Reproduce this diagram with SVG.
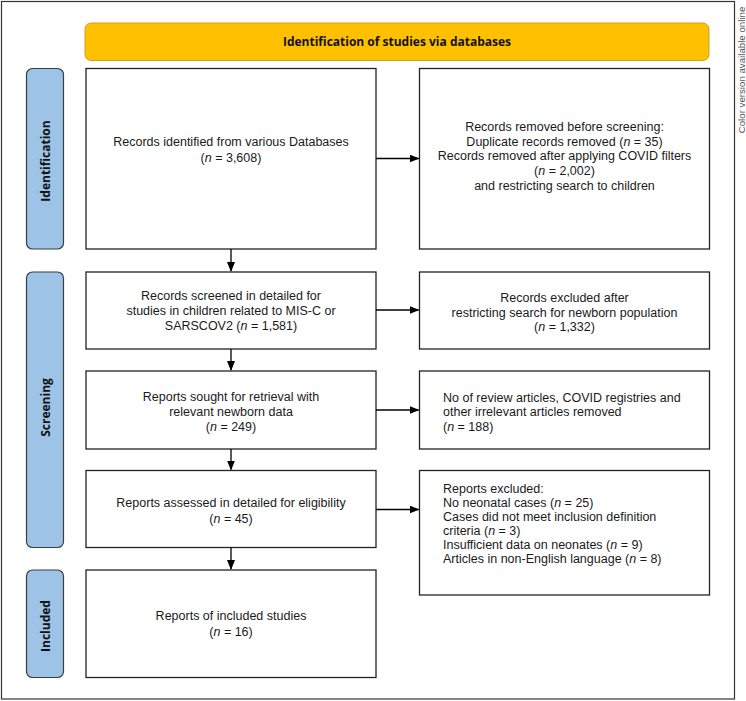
<svg xmlns="http://www.w3.org/2000/svg" width="746" height="701" viewBox="0 0 746 701">
<defs>
<marker id="ah" markerWidth="10" markerHeight="8" refX="9" refY="4" orient="auto" markerUnits="userSpaceOnUse">
<path d="M0,0 L10,4 L0,8 Z" fill="#000"/>
</marker>
<style>
.box{fill:#fff;stroke:#222;stroke-width:1.3}
.side{fill:#9dc3e6;stroke:#3a3f44;stroke-width:1.2}
.banner{fill:#ffc000;stroke:#c9a227;stroke-width:1}
.t{font-family:"Liberation Sans",Arial,sans-serif;font-size:12.5px;fill:#1a1a1a}
.c{text-anchor:middle}
.b{font-family:"Open Sans","Noto Sans","Liberation Sans",sans-serif;font-size:12px;font-weight:bold;fill:#111;text-anchor:middle}
.i{font-style:italic}
.conn{stroke:#000;stroke-width:1.3;fill:none}
</style>
</defs>
<rect x="1.5" y="1.5" width="733" height="697.5" fill="#fff" stroke="#333" stroke-width="1.2"/>
<text transform="translate(745 70) rotate(-90)" x="0" y="0" text-anchor="middle" style="font-family:'Liberation Sans',Arial,sans-serif;font-size:9.7px;fill:#555">Color version available online</text>

<g id="banner">
<rect class="banner" x="85" y="23" width="624" height="37.5" rx="6"/>
<text class="b" x="397" y="46">Identification of studies via databases</text>
</g>

<g id="label-identification">
<rect class="side" x="26.5" y="68.5" width="37" height="180.5" rx="6"/>
<text class="b" transform="translate(49.5 161) rotate(-90)" x="0" y="0">Identification</text>
</g>
<g id="label-screening">
<rect class="side" x="26.5" y="272" width="37" height="275.5" rx="6"/>
<text class="b" transform="translate(49.5 407.5) rotate(-90)" x="0" y="0">Screening</text>
</g>
<g id="label-included">
<rect class="side" x="26.5" y="570" width="37" height="107.5" rx="6"/>
<text class="b" transform="translate(49.5 626) rotate(-90)" x="0" y="0">Included</text>
</g>

<g id="n1">
<rect class="box" x="86" y="68.5" width="290" height="180.5"/>
<text class="t c" x="231" y="146">Records identified from various Databases</text>
<text class="t c" x="231" y="161.5">(<tspan class="i">n</tspan> = 3,608)</text>
</g>
<g id="n2">
<rect class="box" x="419.5" y="68.5" width="290" height="180.5"/>
<text class="t c" x="564.5" y="131">Records removed before screening:</text>
<text class="t c" x="564.5" y="145.7">Duplicate records removed (<tspan class="i">n</tspan> = 35)</text>
<text class="t c" x="564.5" y="160.4">Records removed after applying COVID filters</text>
<text class="t c" x="564.5" y="175">(<tspan class="i">n</tspan> = 2,002)</text>
<text class="t c" x="564.5" y="189.7">and restricting search to children</text>
</g>
<g id="n3">
<rect class="box" x="86" y="272" width="290" height="77"/>
<text class="t c" x="231" y="300">Records screened in detailed for</text>
<text class="t c" x="231" y="315">studies in children related to MIS-C or</text>
<text class="t c" x="231" y="330">SARSCOV2 (<tspan class="i">n</tspan> = 1,581)</text>
</g>
<g id="n4">
<rect class="box" x="419.5" y="272" width="290" height="77"/>
<text class="t c" x="564.5" y="301.5">Records excluded after</text>
<text class="t c" x="564.5" y="316.5">restricting search for newborn population</text>
<text class="t c" x="564.5" y="331">(<tspan class="i">n</tspan> = 1,332)</text>
</g>
<g id="n5">
<rect class="box" x="86" y="371" width="290" height="78"/>
<text class="t c" x="231" y="401">Reports sought for retrieval with</text>
<text class="t c" x="231" y="416">relevant newborn data</text>
<text class="t c" x="231" y="430.5">(<tspan class="i">n</tspan> = 249)</text>
</g>
<g id="n6">
<rect class="box" x="419.5" y="371" width="290" height="78"/>
<text class="t" x="443" y="401.5">No of review articles, COVID registries and</text>
<text class="t" x="443" y="416">other irrelevant articles removed</text>
<text class="t" x="443" y="430.5">(<tspan class="i">n</tspan> = 188)</text>
</g>
<g id="n7">
<rect class="box" x="86" y="470.5" width="290" height="77"/>
<text class="t c" x="231" y="507">Reports assessed in detailed for eligibility</text>
<text class="t c" x="231" y="523">(<tspan class="i">n</tspan> = 45)</text>
</g>
<g id="n8">
<rect class="box" x="419.5" y="470.5" width="290" height="124.5"/>
<text class="t" x="443" y="492.5">Reports excluded:</text>
<text class="t" x="443" y="506.5">No neonatal cases (<tspan class="i">n</tspan> = 25)</text>
<text class="t" x="443" y="520.5">Cases did not meet inclusion definition</text>
<text class="t" x="443" y="534.5">criteria (<tspan class="i">n</tspan> = 3)</text>
<text class="t" x="443" y="548.5">Insufficient data on neonates (<tspan class="i">n</tspan> = 9)</text>
<text class="t" x="443" y="562.5">Articles in non-English language (<tspan class="i">n</tspan> = 8)</text>
</g>
<g id="n9">
<rect class="box" x="86" y="570" width="290" height="107.5"/>
<text class="t c" x="231" y="619.5">Reports of included studies</text>
<text class="t c" x="231" y="636">(<tspan class="i">n</tspan> = 16)</text>
</g>

<g id="connectors">
<line class="conn" x1="231" y1="249" x2="231" y2="271" marker-end="url(#ah)"/>
<line class="conn" x1="231" y1="349" x2="231" y2="370" marker-end="url(#ah)"/>
<line class="conn" x1="231" y1="449" x2="231" y2="469.5" marker-end="url(#ah)"/>
<line class="conn" x1="231" y1="547.5" x2="231" y2="569" marker-end="url(#ah)"/>
<line class="conn" x1="376" y1="158.5" x2="418.5" y2="158.5" marker-end="url(#ah)"/>
<line class="conn" x1="376" y1="310" x2="418.5" y2="310" marker-end="url(#ah)"/>
<line class="conn" x1="376" y1="410" x2="418.5" y2="410" marker-end="url(#ah)"/>
<line class="conn" x1="376" y1="509.5" x2="418.5" y2="509.5" marker-end="url(#ah)"/>
</g>
</svg>
